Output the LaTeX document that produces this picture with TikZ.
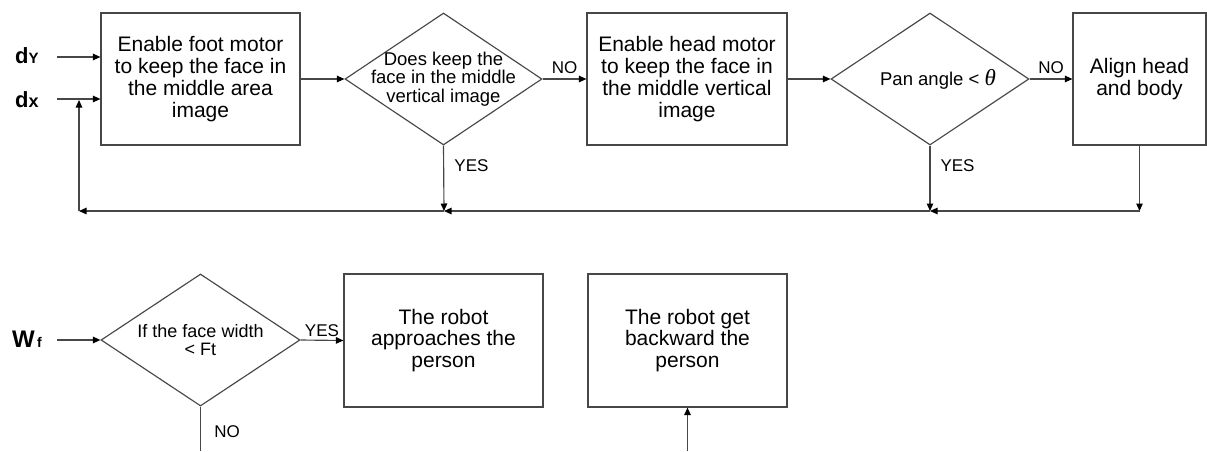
\documentclass[tikz,border=0pt]{standalone}
\usepackage{fontspec}
\setmainfont{Liberation Sans}
\newfontfamily\greekfont{Liberation Serif}
\usetikzlibrary{shapes.geometric,arrows.meta}

\begin{document}
\begin{tikzpicture}[x=1pt,y=-1pt,
  line/.style={draw=black!72,line width=1.15pt},
  arr/.style={line,-{Triangle[length=7.5pt,width=6.5pt,color=black]}},
  procbox/.style={draw=black!72,line width=1.15pt,rectangle,inner sep=0pt,
    align=center,font=\fontsize{21}{21.8}\selectfont},
  decision/.style={draw=black!72,line width=1.15pt,diamond,inner sep=0pt},
  dtext/.style={align=center,inner sep=0pt,font=\fontsize{18.5}{18.5}\selectfont},
  answer/.style={inner sep=0pt,font=\fontsize{17}{17}\selectfont},
  signal/.style={anchor=base west,inner sep=0pt},
]
\useasboundingbox (0,0) rectangle (1207,451);

% ---- upper loop: centring the face ----
\node[procbox,minimum width=199pt,minimum height=132pt] (b1) at (200.5,79)
  {Enable foot motor\\to keep the face in\\the middle area\\image};
\node[decision,minimum width=197pt,minimum height=132pt] (d1) at (443.5,79) {};
\node[dtext] (t1) at (d1) {Does keep the\\face in the middle\\vertical image};
\node[procbox,minimum width=200pt,minimum height=132pt] (b2) at (687,79)
  {Enable head motor\\to keep the face in\\the middle vertical\\image};
\node[decision,minimum width=198pt,minimum height=132pt] (d2) at (930,79) {};
\node[dtext,xshift=8pt] (t2) at (d2)
  {Pan angle < {\greekfont\itshape\fontsize{23}{23}\selectfont θ}};
\node[procbox,minimum width=133pt,minimum height=132pt] (b3) at (1139.5,79)
  {Align head\\and body};

% inputs
\node[signal] (lY) at (15,63)
  {{\fontsize{22}{22}\selectfont\bfseries d}{\fontsize{15}{15}\selectfont\bfseries Y}};
\node[signal] (lX) at (15,107)
  {{\fontsize{22}{22}\selectfont\bfseries d}{\fontsize{18}{18}\selectfont\bfseries x}};
\coordinate (sY) at (57,57);
\coordinate (sX) at (57,99);
\draw[arr] (sY) -- (sY -| b1.west);
\draw[arr] (sX) -- (sX -| b1.west);

% forward path
\draw[arr] (b1.east) -- (d1.west);
\draw[arr] (d1.east) -- node[answer,above=5pt] (no1) {NO} (b2.west);
\draw[arr] (b2.east) -- (d2.west);
\draw[arr] (d2.east) -- node[answer,above=5pt] (no2) {NO} (b3.west);

% return path
\coordinate (j0) at (79,211);
\coordinate (j1) at (444,211);
\coordinate (j2) at (930,211);
\coordinate (j3) at (1139.5,211);
\draw[arr] (d1.south) -- (j1);
\node[answer] (yes1) at (471.5,165.5) {YES};
\draw[arr] (d2.south) -- (j2);
\node[answer] (yes2) at (957.5,165.5) {YES};
\draw[arr] (b3.south) -- (j3);
\draw[arr] (j3) -- (j2);
\draw[arr] (j2) -- (j1);
\draw[arr] (j1) -- (j0);
\draw[arr] (j0) -- ([yshift=-1pt]j0 |- sX);

% ---- lower part: distance to the person ----
\node[decision,minimum width=199pt,minimum height=132pt] (d3) at (200.5,340) {};
\node[dtext,font=\fontsize{18}{18.5}\selectfont] (t3) at (d3) {If the face width\\< Ft};
\node[procbox,minimum width=199pt,minimum height=133pt] (b4) at (443.5,340.5)
  {The robot\\approaches the\\person};
\node[procbox,minimum width=199pt,minimum height=133pt] (b5) at (687.5,340.5)
  {The robot get\\backward the\\person};

\node[signal] (lW) at (12,347)
  {{\fontsize{24}{24}\selectfont\bfseries W}{\fontsize{14}{14}\selectfont\bfseries\,f}};
\coordinate (sW) at (57,340);
\draw[arr] (sW) -- (d3.west);
\draw[arr] (d3.east) -- (b4.west);
\node[answer,anchor=south] (yes3) at (322,337) {YES};

\coordinate (e1) at (200.5,451);
\coordinate (e2) at (687.5,451);
\draw[line] (d3.south) -- (e1);
\node[answer] (no3) at (227,432) {NO};
\draw[arr] (e2) -- (b5.south);
\end{tikzpicture}
\end{document}
